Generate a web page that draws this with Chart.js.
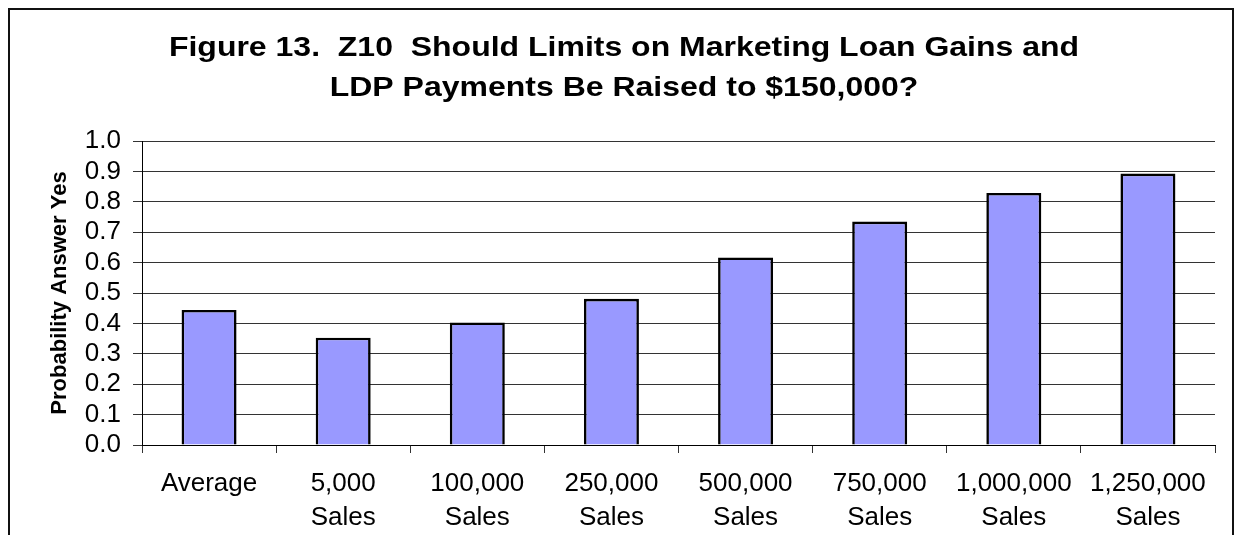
<!DOCTYPE html>
<html>
<head>
<meta charset="utf-8">
<script src="https://cdn.jsdelivr.net/npm/chart.js@4/dist/chart.umd.min.js"></script>
<style>
  html, body { margin: 0; padding: 0; background: #fff; }
  #wrap { width: 1235px; height: 535px; position: relative; }
</style>
</head>
<body>
<div id="wrap"><canvas id="c" width="1235" height="535"></canvas></div>
<script>
// Probability of answering "yes", by farm size
const categories = [
  ['Average'],
  ['5,000', 'Sales'],
  ['100,000', 'Sales'],
  ['250,000', 'Sales'],
  ['500,000', 'Sales'],
  ['750,000', 'Sales'],
  ['1,000,000', 'Sales'],
  ['1,250,000', 'Sales']
];
const probabilityYes = [0.444, 0.353, 0.403, 0.481, 0.617, 0.735, 0.829, 0.893];
const yTicks = [0.0, 0.1, 0.2, 0.3, 0.4, 0.5, 0.6, 0.7, 0.8, 0.9, 1.0];
const titleLines = [
  'Figure 13.  Z10  Should Limits on Marketing Loan Gains and',
  'LDP Payments Be Raised to $150,000?'
];
const yAxisTitle = 'Probability Answer Yes';

Chart.defaults.font.family = '"Liberation Sans", Arial, sans-serif';
Chart.defaults.color = '#000';

// outer frame around the whole figure
const framePlugin = {
  id: 'frame',
  beforeDraw(chart) {
    const ctx = chart.ctx;
    ctx.save();
    ctx.fillStyle = '#fff';
    ctx.fillRect(0, 0, chart.width, chart.height);
    ctx.strokeStyle = '#111';
    ctx.lineWidth = 2;
    ctx.strokeRect(9, 9, 1224, 600);
    ctx.restore();
  }
};

// two-line heading in a wide bold face above the plot
const headingPlugin = {
  id: 'heading',
  afterDraw(chart) {
    const ctx = chart.ctx;
    const cx = 624;
    const lineY = [49, 89];
    ctx.save();
    ctx.fillStyle = '#000';
    ctx.font = 'bold 27px "Liberation Sans", Arial, sans-serif';
    ctx.textAlign = 'center';
    ctx.textBaseline = 'middle';
    titleLines.forEach((line, i) => {
      ctx.save();
      ctx.translate(cx, lineY[i]);
      ctx.scale(1.185, 1);
      ctx.fillText(line, 0, 0);
      ctx.restore();
    });
    ctx.restore();
  }
};

new Chart(document.getElementById('c'), {
  type: 'bar',
  data: {
    labels: categories,
    datasets: [{
      data: probabilityYes,
      backgroundColor: '#9999FF',
      borderColor: '#000',
      borderWidth: 2.6,
      borderSkipped: 'start',
      categoryPercentage: 1.0,
      barPercentage: 0.41
    }]
  },
  options: {
    responsive: false,
    animation: false,
    devicePixelRatio: 1,
    layout: { padding: { left: 0, right: 20, top: 141, bottom: 0 } },
    plugins: {
      legend: { display: false },
      tooltip: { enabled: false },
      title: { display: false }
    },
    scales: {
      x: {
        offset: true,
        grid: {
          offset: true,
          drawOnChartArea: true,
          color: (c) => (c.index === categories.length ? '#444' : 'rgba(0,0,0,0)'),
          tickColor: '#333',
          tickLength: 8,
          lineWidth: 1
        },
        border: { color: '#000', width: 1 },
        ticks: {
          autoSkip: false,
          maxRotation: 0,
          minRotation: 0,
          padding: 14,
          font: { size: 26, lineHeight: 1.3 },
          color: '#000'
        },
        afterFit(scale) { scale.height = 90; }
      },
      y: {
        min: 0,
        max: 1,
        afterBuildTicks(scale) { scale.ticks = yTicks.map(v => ({ value: v })); },
        grid: {
          color: '#333',
          tickColor: '#333',
          tickLength: 9,
          lineWidth: 1
        },
        border: { color: '#000', width: 1 },
        ticks: {
          autoSkip: false,
          padding: 12,
          font: { size: 26 },
          color: '#000',
          callback: (v) => Number(v).toFixed(1)
        },
        title: {
          display: true,
          text: yAxisTitle,
          font: { size: 22, weight: 'bold' },
          color: '#000',
          padding: { top: 47, bottom: 0 }
        },
        afterFit(scale) { scale.width = 142; }
      }
    }
  },
  plugins: [framePlugin, headingPlugin]
});
</script>
</body>
</html>
